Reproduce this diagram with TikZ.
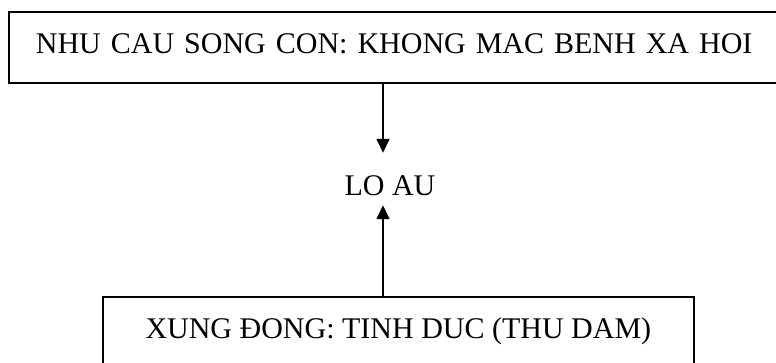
\documentclass[tikz,border=0pt]{standalone}
\usepackage{fontspec}
\setmainfont{Liberation Serif}
\usetikzlibrary{arrows.meta}
\begin{document}
\begin{tikzpicture}[x=1pt,y=-1pt,
  every node/.style={font=\fontsize{30}{30}\selectfont},
  boxnode/.style={draw=black,line width=1.8pt,rectangle,inner ysep=0pt,text height=42pt,text depth=29pt},
  arr/.style={draw=black,line width=1.5pt,-{Triangle[width=13pt,length=14pt]}}]
\useasboundingbox (0,0) rectangle (776,362);
\clip (0,0) rectangle (776,362);
\fill[white] (0,0) rectangle (776,362);
\node[boxnode,anchor=north west,inner xsep=27pt,text width=765pt,align=left] (topbox) at (8,11) {NHU CAU SONG CON: KHONG MAC BENH XA HOI};
\node[boxnode,anchor=north west,minimum width=591pt,text depth=45pt,inner xsep=0pt] (botbox) at (102,296) {XUNG ĐONG: TINH DUC (THU DAM)};
\node[anchor=base,inner sep=0pt,text height=42pt,text depth=10pt] (lo) at (390,195) {LO AU};
\coordinate (ax) at (383,0);
\draw[arr] (topbox.south -| ax) -- (lo.north -| ax);
\draw[arr] (botbox.north -| ax) -- (lo.south -| ax);
\end{tikzpicture}
\end{document}
